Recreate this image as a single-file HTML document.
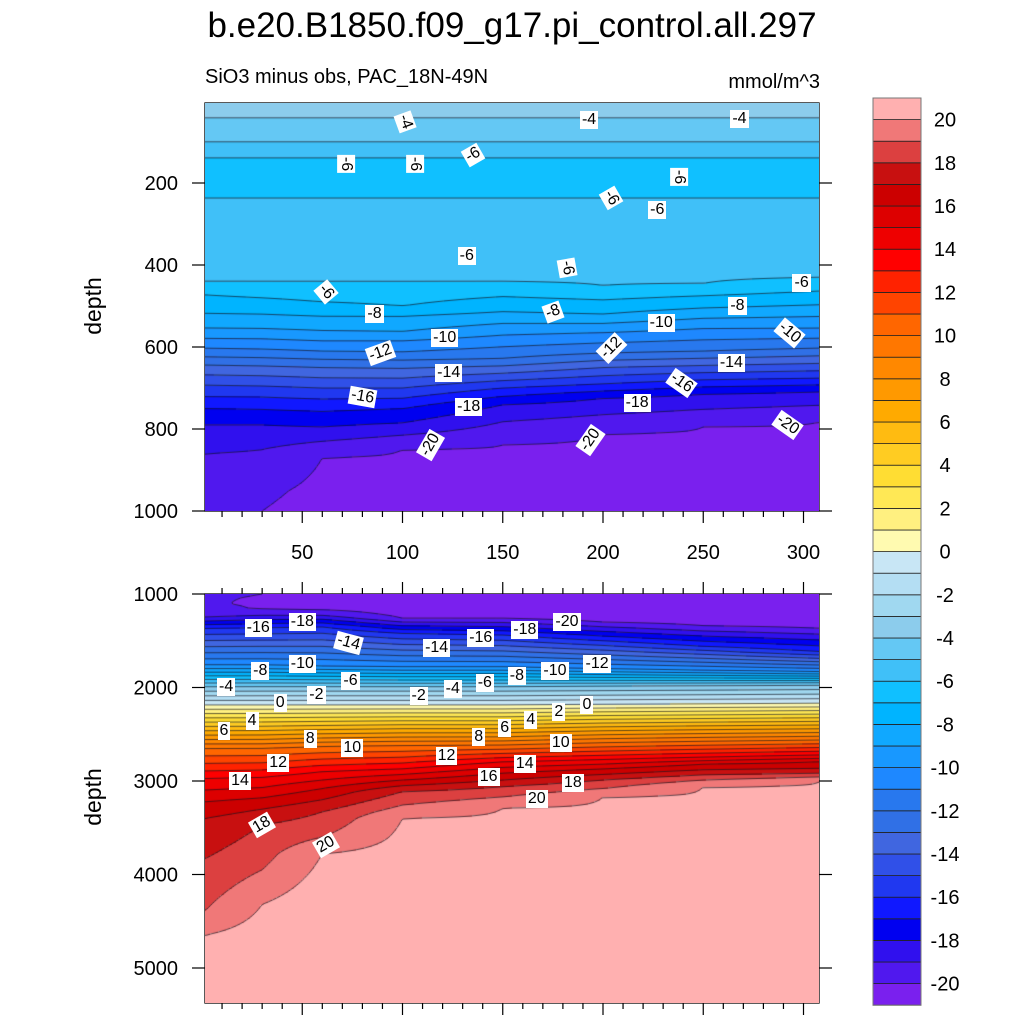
<!DOCTYPE html>
<html><head><meta charset="utf-8"><style>
body{margin:0;background:#fff;width:1024px;height:1024px;overflow:hidden;position:relative;font-family:"Liberation Sans",sans-serif}
canvas{position:absolute}
.lbl{position:absolute;background:#fff;font-size:16px;line-height:18px;padding:0 2px;color:#000;white-space:nowrap}
</style></head><body>
<svg id="axes" width="1024" height="1024" style="position:absolute;left:0;top:0">
<text x="512" y="37" font-size="35" text-anchor="middle" font-family="Liberation Sans">b.e20.B1850.f09_g17.pi_control.all.297</text>
<text x="205" y="83" font-size="20" font-family="Liberation Sans">SiO3 minus obs, PAC_18N-49N</text>
<text x="820" y="88" font-size="20" text-anchor="end" font-family="Liberation Sans">mmol/m^3</text>
<text transform="translate(101,306) rotate(-90)" font-size="23" text-anchor="middle" font-family="Liberation Sans">depth</text>
<text transform="translate(101,797) rotate(-90)" font-size="23" text-anchor="middle" font-family="Liberation Sans">depth</text>
</svg>
<canvas id="c1"></canvas>
<canvas id="c2"></canvas>
<div id="labels"></div>
<script>
const levels=[];for(let v=-20;v<=20;v++)levels.push(v);
const colors=['#7A20EE','#5018EE','#3010EE','#0000F0','#1018FF','#2038F0','#3050E8','#4066E0','#3070E6','#2878EE','#1E88FF','#1898FF','#10A8FF','#00B4FF','#10C0FF','#40C0F8','#64C8F4','#8CCCEC','#A0D8F0','#B4DEF3','#C8E6F5','#FFFAB0','#FFF080','#FFE855','#FFDD33','#FFCC22','#FFBB11','#FFAA00','#FF9900','#FF8800','#FF7700','#FF6600','#FF4400','#FF2200','#FF0000','#EE0000','#DD0000','#CC0000','#C81010','#DC4040','#F07878','#FFB0B0'];
const topDepths=[0,41,100,140,230,250,420];
const topValues=[-3.3,-4,-5,-6.05,-6.1,-5.8,-5.8];
const colX=[2,30,60,100,150,200,250,308];
const colDepths=[
[440,473,518,554,579,603,624,644,668,693,721,750,790,860,1000,1100,1200,1250,1367,1759,1991,2187,2462,2651,2972,3221,3399,3827,4380,4647,5400],
[440,480,520,555,580,605,626,646,670,695,722,752,790,850,950,1050,1150,1230,1360,1760,1990,2187,2460,2650,2960,3180,3300,3470,3950,4320,5400],
[440,490,525,560,585,610,630,650,675,700,727,757,795,830,870,1000,1150,1230,1350,1770,1990,2187,2450,2630,2900,3080,3200,3330,3600,3780,5400],
[440,500,525,562,585,612,632,652,676,700,725,750,785,815,850,1000,1200,1260,1300,1420,1780,1990,2187,2440,2620,2870,2990,3050,3114,3257,3399,5400],
[440,514,571,628,664,700,741,782,839,1000,1200,1260,1438,1780,1990,2187,2440,2615,2795,2915,2990,3060,3170,3290,5400],
[450,520,565,615,650,690,725,765,812,1000,1250,1300,1500,1800,1985,2180,2420,2590,2770,2870,2930,2990,3080,3170,5400],
[445,505,555,610,645,680,715,752,795,1000,1280,1340,1560,1815,1980,2175,2410,2575,2745,2820,2880,2935,2990,3060,5400],
[430,497,554,603,640,676,709,742,782,1000,1300,1367,1617,1831,1973,2169,2401,2562,2722,2794,2865,2919,2955,3008,5400]];
const colValues=[
[-6,-7,-8,-9,-10,-11,-12,-13,-14,-15,-16,-17,-18,-19,-19.6,-19.9,-19.5,-19,-16,-10,-4,0,6,10,14,16,17,18,19,20,21],
[-6,-7,-8,-9,-10,-11,-12,-13,-14,-15,-16,-17,-18,-19,-19.8,-20.2,-20.1,-19,-16,-10,-4,0,6,10,14,16,17,18,19,20,21.5],
[-6,-7,-8,-9,-10,-11,-12,-13,-14,-15,-16,-17,-18,-19,-20,-20.4,-20.3,-19,-16,-10,-4,0,6,10,14,16,17,18,19,20,22],
[-6,-7,-8,-9,-10,-11,-12,-13,-14,-15,-16,-17,-18,-19,-20,-20.6,-20.4,-20,-19,-16,-10,-4,0,6,10,14,16,17,18,19,20,22],
[-6,-8,-10,-12,-14,-16,-18,-19,-20,-20.6,-20.5,-20,-16,-10,-4,0,6,10,14,16,17,18,19,20,22],
[-6,-8,-10,-12,-14,-16,-18,-19,-20,-20.6,-20.5,-20,-16,-10,-4,0,6,10,14,16,17,18,19,20,22],
[-6,-8,-10,-12,-14,-16,-18,-19,-20,-20.6,-20.5,-20,-16,-10,-4,0,6,10,14,16,17,18,19,20,22],
[-6,-8,-10,-12,-14,-16,-18,-19,-20,-20.6,-20.5,-20,-16,-10,-4,0,6,10,14,16,17,18,19,20,22.5]];
const labelText=['-4','-4','-4','-6','-6','-6','-6','-6','-6','-6','-6','-6','-6','-8','-8','-8','-10','-10','-10','-12','-12','-14','-14','-16','-16','-18','-18','-20','-20','-20'];
const labelX=[101,193,268,72,106,135,238,204,227,132,182,62,299,86,175,267,121,229,293,89,204,123,264,80,239,133,217,114,194,292];
const labelD=[51,46,44,154,154,132,185,237,266,378,407,466,444,520,515,500,578,541,566,615,602,663,639,722,688,746,737,839,827,790];
const labelRot=[70,0,0,90,90,-30,90,60,0,0,80,50,0,0,-20,0,0,0,40,-20,-45,0,0,10,35,0,0,-60,-55,35];
const blabelText=['-16','-18','-14','-14','-16','-18','-20','-12','-10','-10','-8','-8','-6','-6','-4','-4','-2','-2','0','0','2','4','4','6','6','8','8','10','10','12','12','14','14','16','18','18','20','20'];
const blabelX=[28,50,73,117,139,161,182,197,50,176,29,157,74,141,12,125,57,108,39,192,178,25,164,11,151,54,138,75,179,38,122,19,161,143,185,30,167,62];
const blabelD=[1364,1299,1524,1578,1471,1385,1299,1749,1749,1824,1824,1877,1930,1952,1995,2016,2080,2091,2166,2187,2262,2358,2348,2465,2433,2551,2529,2647,2594,2807,2733,3000,2818,2957,3021,3471,3193,3684];
const blabelRot=[0,0,15,0,0,0,0,0,0,0,0,0,0,0,0,0,0,0,0,0,0,0,0,0,0,0,0,0,0,0,0,0,0,0,0,-30,0,-30];
const xTicks=[50,100,150,200,250,300];
const topYTicks=[200,400,600,800,1000];
const botYTicks=[1000,2000,3000,4000,5000];
const cbLabels=[20,18,16,14,12,10,8,6,4,2,0,-2,-4,-6,-8,-10,-12,-14,-16,-18,-20];

const PL=205,PR=819;
const sx=x=>202+x*2.005, xinv=p=>(p-202)/2.005;
const syT=d=>101+d*0.41, dT=p=>(p-101)/0.41;
const syB=d=>594+(d-1000)*0.0935, dB=p=>(p-594)/0.0935+1000;
function interp(ds,vs,d){if(d<=ds[0])return vs[0];for(let i=1;i<ds.length;i++){if(d<=ds[i]){const t=(d-ds[i-1])/(ds[i]-ds[i-1]);return vs[i-1]+t*(vs[i]-vs[i-1]);}}return vs[vs.length-1];}
function colVal(j,d){if(d<=topDepths[topDepths.length-1])return interp(topDepths,topValues,d);
 const ds=[topDepths[topDepths.length-1]].concat(colDepths[j]);const vs=[topValues[topValues.length-1]].concat(colValues[j]);return interp(ds,vs,d);}
function field(x,d){if(x<=colX[0])return colVal(0,d);if(x>=colX[colX.length-1])return colVal(colX.length-1,d);
 for(let j=1;j<colX.length;j++){if(x<=colX[j]){const t=(x-colX[j-1])/(colX[j]-colX[j-1]);return colVal(j-1,d)*(1-t)+colVal(j,d)*t;}}}
function colorOf(v){let k=0;while(k<levels.length&&levels[k]<=v)k++;return colors[k];}
function drawPanel(id,top,bot,dinv){
 const c=document.getElementById(id);const W=PR-PL,H=bot-top;c.width=W;c.height=H;c.style.left=PL+'px';c.style.top=top+'px';
 const g=c.getContext('2d');const st=2;const nx=Math.ceil(W/st)+1,ny=Math.ceil(H/st)+1;const V=[];
 for(let j=0;j<ny;j++){V.push([]);for(let i=0;i<nx;i++){V[j].push(field(xinv(PL+i*st),dinv(top+j*st)));}}
 for(let j=0;j<ny;j++)for(let i=0;i<nx;i++){g.fillStyle=colorOf(V[j][i]);g.fillRect(i*st-1,j*st-1,st,st);}
 g.strokeStyle='rgba(20,20,30,0.85)';g.lineWidth=0.8;g.beginPath();
 for(const L of levels){for(let j=0;j<ny-1;j++)for(let i=0;i<nx-1;i++){
  const a=V[j][i],b=V[j][i+1],cc=V[j+1][i+1],d=V[j+1][i];const pts=[];
  const e=(v1,v2,x1,y1,x2,y2)=>{if((v1<L)!==(v2<L)){const t=(L-v1)/(v2-v1);pts.push([x1+t*(x2-x1),y1+t*(y2-y1)]);}};
  const X=i*st,Y=j*st;e(a,b,X,Y,X+st,Y);e(b,cc,X+st,Y,X+st,Y+st);e(cc,d,X+st,Y+st,X,Y+st);e(d,a,X,Y+st,X,Y);
  for(let k=0;k+1<pts.length;k+=2){g.moveTo(pts[k][0],pts[k][1]);g.lineTo(pts[k+1][0],pts[k+1][1]);}
 }}
 g.stroke();
}
drawPanel('c1',103,511,dT);
drawPanel('c2',594,1003,dB);
const lab=document.getElementById('labels');
function addLabel(t,x,y,r){const el=document.createElement('div');el.className='lbl';el.textContent=t;


lab.appendChild(el);const w=el.offsetWidth,h=el.offsetHeight;el.style.left=(x-w/2)+'px';el.style.top=(y-h/2)+'px';el.style.transform='rotate('+r+'deg)';}
for(let i=0;i<labelText.length;i++)addLabel(labelText[i],sx(labelX[i]),syT(labelD[i]),labelRot[i]);
for(let i=0;i<blabelText.length;i++)addLabel(blabelText[i],sx(blabelX[i]),syB(blabelD[i]),blabelRot[i]);
const svg=document.getElementById('axes');const NS='http://www.w3.org/2000/svg';
function mk(tag,attrs,name){const e=document.createElementNS(NS,tag);for(const k in attrs)e.setAttribute(k,attrs[k]);


svg.appendChild(e);return e;}
function line(x1,y1,x2,y2,name,w){mk('line',{x1,y1,x2,y2,stroke:'#000','stroke-width':w||1.2},name);}
function txt(s,x,y,anchor,name,size){const t=mk('text',{x,y,'text-anchor':anchor,'font-size':size||20,'font-family':'Liberation Sans'},name);t.textContent=s;}
[[103,511],[594,1003]].forEach(([t,b],pi)=>{mk('rect',{x:PL,y:t,width:PR-PL,height:b-t,fill:'none',stroke:'#000','stroke-width':1.3},'plot-frame');});
for(let v=10;v<=310;v+=10){const X=sx(v);if(X>PR)break;const maj=v%50===0;
 line(X,511,X,511+(maj?12:6),'x-tick');
 line(X,594,X,594-(maj?12:6),'x-tick-bottom-panel');line(X,1003,X,1003+(maj?12:6),'x-tick-bottom');}
xTicks.forEach(v=>txt(String(v),sx(v),559,'middle','x-tick-label'));
for(let d=100;d<=1000;d+=100){const Y=syT(d);if(d%200===0){line(PL-13,Y,PL,Y,'y-tick');line(PR,Y,PR+13,Y,'y-tick-right');}else{line(PL,Y,PL+5,Y,'y-minor-tick');line(PR-5,Y,PR,Y,'y-minor-tick-right');}}
topYTicks.forEach(v=>txt(String(v),178,syT(v)+7,'end','y-tick-label'));
for(let d=1000;d<=5200;d+=200){const Y=syB(d);if(d%1000===0){line(PL-13,Y,PL,Y,'y-tick');line(PR,Y,PR+13,Y,'y-tick-right');}else{line(PL,Y,PL+5,Y,'y-minor-tick');line(PR-5,Y,PR,Y,'y-minor-tick-right');}}
botYTicks.forEach(v=>txt(String(v),178,syB(v)+7,'end','y-tick-label'));
const cbTop=98,bh=21.6;
for(let k=0;k<colors.length;k++){const y=cbTop+(colors.length-1-k)*bh;mk('rect',{x:873,y:y,width:48,height:bh,fill:colors[k],stroke:'#222','stroke-width':0.8},'colorbar-box');}
mk('rect',{x:873,y:cbTop,width:48,height:bh*42,fill:'none',stroke:'#777','stroke-width':1},'colorbar-frame');
cbLabels.forEach(v=>txt(String(v),945,cbTop+bh*(21-v)+7,'middle','colorbar-label'));
</script>
</body></html>
